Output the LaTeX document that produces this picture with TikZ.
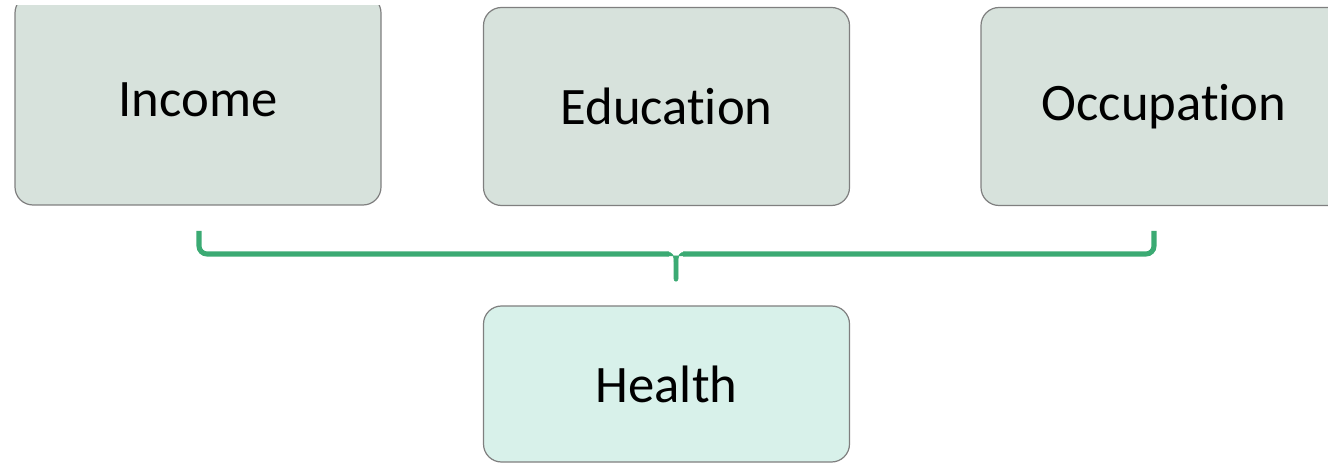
\documentclass[tikz,border=0pt]{standalone}
\usepackage{fontspec}
\setmainfont[Ligatures=NoCommon]{Carlito}
\definecolor{boxfill}{HTML}{D7E2DC}
\definecolor{healthfill}{HTML}{D8F1EA}
\definecolor{boxline}{HTML}{7F7F7F}
\definecolor{bracegreen}{HTML}{3BAA73}
\begin{document}
\begin{tikzpicture}[x=0.75pt,y=-0.75pt,
  factor/.style={draw=boxline, line width=0.9pt, fill=boxfill, rounded corners=13.5pt,
    minimum width=274.5pt, minimum height=148.5pt, inner sep=0pt,
    font=\fontsize{39.5}{45}\selectfont},
  outcome/.style={factor, fill=healthfill, minimum height=117pt},
  bracepath/.style={draw=bracegreen, line width=3.8pt, rounded corners=6pt}]
\useasboundingbox (0,0) rectangle (1328,463);
% top factor boxes
\begin{scope}
  \clip (0,6) rectangle (1328,463);
  \node[factor, minimum height=157.5pt] (income) at (198,100) {Income};
\end{scope}
\node[factor] (education) at (666.5,106.5) {Education};
\node[factor] (occupation) at (1164,106.5) {Occupation};
% outcome box
\node[outcome] (health) at (666.5,384) {Health};
% curly brace grouping the factors
\coordinate (bl) at (199,231);
\coordinate (br) at (1154,231);
\coordinate (tip) at (676,281);
\draw[bracepath] (bl) -- (199,254) -- (669,254);
\draw[bracepath] (br) -- (1154,254) -- (683,254);
\draw[draw=bracegreen, fill=bracegreen, line cap=round]
  (667,252.1) .. controls (673,252.1) and (674,256) .. (674,262) -- (674,279)
  .. controls (674,282) and (678,282) .. (678,279) -- (678,262)
  .. controls (678,256) and (679,252.1) .. (685,252.1) -- (685,255.9) -- (667,255.9) -- cycle;
\end{tikzpicture}
\end{document}
